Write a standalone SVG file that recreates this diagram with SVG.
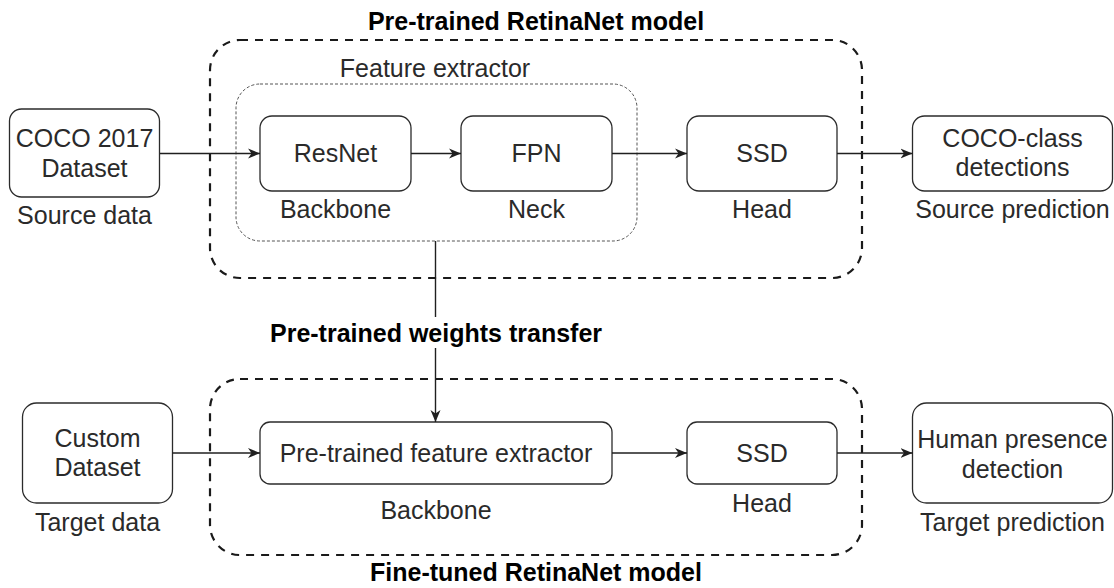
<svg xmlns="http://www.w3.org/2000/svg" width="1114" height="588" viewBox="0 0 1114 588">
  <defs>
    <style>
      .box { fill: #ffffff; stroke: #2b2b2b; stroke-width: 1.3; }
      .group { fill: none; stroke: #1a1a1a; stroke-width: 2.2; stroke-dasharray: 8 7; }
      .subgroup { fill: none; stroke: #555555; stroke-width: 1; stroke-dasharray: 3 2; }
      .t { font-family: "Liberation Sans", Arial, sans-serif; font-size: 25px; fill: #2a2a2a; text-anchor: middle; }
      .title { font-family: "Liberation Sans", Arial, sans-serif; font-size: 25px; font-weight: bold; fill: #000000; text-anchor: middle; }
      .edge { fill: none; stroke: #1f1f1f; stroke-width: 1.4; }
    </style>
    <marker id="arrow" markerUnits="userSpaceOnUse" markerWidth="13" markerHeight="11" refX="12" refY="5.5" orient="auto">
      <path d="M0,0.5 L12,5.5 L0,10.5 L3.5,5.5 Z" fill="#1f1f1f"/>
    </marker>
  </defs>

  <!-- Pre-trained model container -->
  <g id="pretrained-model">
    <rect class="group" x="210" y="40" width="652" height="238" rx="30" ry="30"/>
    <text class="title" x="536" y="30">Pre-trained RetinaNet model</text>
  </g>

  <!-- Feature extractor grouping -->
  <g id="feature-extractor">
    <rect class="subgroup" x="236" y="84" width="401" height="157" rx="24" ry="24"/>
    <text class="t" x="435" y="77">Feature extractor</text>
  </g>

  <!-- Fine-tuned model container -->
  <g id="finetuned-model">
    <rect class="group" x="210" y="379" width="652" height="176" rx="30" ry="30"/>
    <text class="title" x="536" y="581">Fine-tuned RetinaNet model</text>
  </g>

  <!-- Top row -->
  <g id="coco-dataset">
    <rect class="box" x="9.5" y="109" width="150" height="88" rx="12" ry="12"/>
    <text class="t" x="84.5" y="147">COCO 2017</text>
    <text class="t" x="84.5" y="177">Dataset</text>
    <text class="t" x="84.5" y="224">Source data</text>
  </g>

  <g id="resnet">
    <rect class="box" x="260" y="116" width="151" height="75" rx="12" ry="12"/>
    <text class="t" x="335.5" y="162">ResNet</text>
    <text class="t" x="335.5" y="218">Backbone</text>
  </g>

  <g id="fpn">
    <rect class="box" x="461" y="116" width="151" height="75" rx="12" ry="12"/>
    <text class="t" x="536.5" y="162">FPN</text>
    <text class="t" x="536.5" y="218">Neck</text>
  </g>

  <g id="ssd-source">
    <rect class="box" x="687" y="116" width="150" height="75" rx="12" ry="12"/>
    <text class="t" x="762" y="162">SSD</text>
    <text class="t" x="762" y="218">Head</text>
  </g>

  <g id="coco-detections">
    <rect class="box" x="912.5" y="116" width="200" height="75" rx="12" ry="12"/>
    <text class="t" x="1012.5" y="147">COCO-class</text>
    <text class="t" x="1012.5" y="176">detections</text>
    <text class="t" x="1012.5" y="218">Source prediction</text>
  </g>

  <!-- Transfer label -->
  <g id="transfer-label">
    <text class="title" x="436" y="342">Pre-trained weights transfer</text>
  </g>

  <!-- Bottom row -->
  <g id="custom-dataset">
    <rect class="box" x="22.5" y="403" width="150" height="100" rx="14" ry="14"/>
    <text class="t" x="97.5" y="447">Custom</text>
    <text class="t" x="97.5" y="476">Dataset</text>
    <text class="t" x="97.5" y="531">Target data</text>
  </g>

  <g id="pretrained-extractor">
    <rect class="box" x="260" y="422" width="352" height="62" rx="10" ry="10"/>
    <text class="t" x="436" y="462">Pre-trained feature extractor</text>
    <text class="t" x="436" y="519">Backbone</text>
  </g>

  <g id="ssd-target">
    <rect class="box" x="687" y="422" width="150" height="62" rx="10" ry="10"/>
    <text class="t" x="762" y="462">SSD</text>
    <text class="t" x="762" y="512">Head</text>
  </g>

  <g id="human-detection">
    <rect class="box" x="912.5" y="403" width="200" height="100" rx="14" ry="14"/>
    <text class="t" x="1012.5" y="448">Human presence</text>
    <text class="t" x="1012.5" y="478">detection</text>
    <text class="t" x="1012.5" y="531">Target prediction</text>
  </g>

  <!-- Connectors -->
  <g id="connectors">
    <line class="edge" x1="160" y1="153.5" x2="260" y2="153.5" marker-end="url(#arrow)"/>
    <line class="edge" x1="411" y1="153.5" x2="461" y2="153.5" marker-end="url(#arrow)"/>
    <line class="edge" x1="612" y1="153.5" x2="687" y2="153.5" marker-end="url(#arrow)"/>
    <line class="edge" x1="837" y1="153.5" x2="912.5" y2="153.5" marker-end="url(#arrow)"/>
    <line class="edge" x1="435.5" y1="241" x2="435.5" y2="317"/>
    <line class="edge" x1="435.5" y1="348" x2="435.5" y2="422" marker-end="url(#arrow)"/>
    <line class="edge" x1="172.5" y1="453" x2="260" y2="453" marker-end="url(#arrow)"/>
    <line class="edge" x1="612" y1="453" x2="687" y2="453" marker-end="url(#arrow)"/>
    <line class="edge" x1="837" y1="453" x2="912.5" y2="453" marker-end="url(#arrow)"/>
  </g>
</svg>
